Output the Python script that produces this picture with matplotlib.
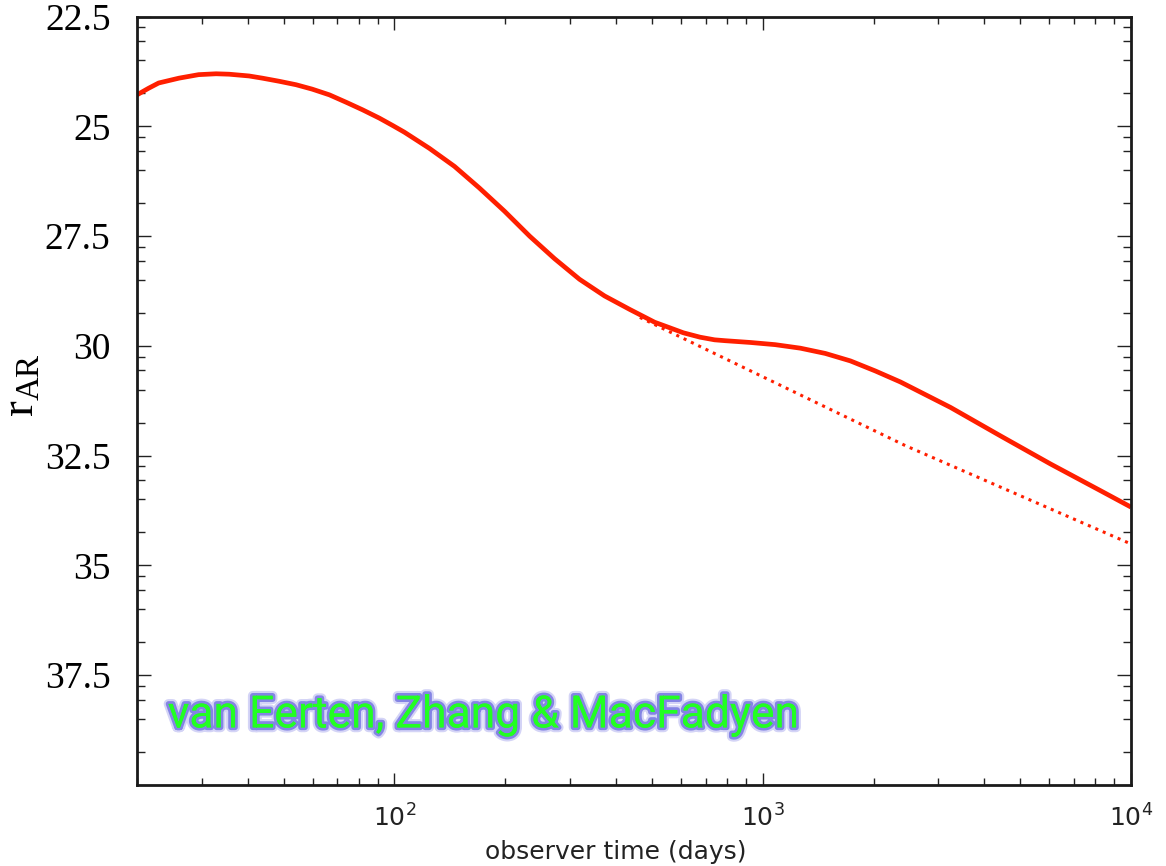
import numpy as np
import matplotlib
matplotlib.use("Agg")
import matplotlib.pyplot as plt
import matplotlib.patheffects as pe
from matplotlib.ticker import FixedLocator, LogLocator, NullFormatter

plt.rcParams["mathtext.fontset"] = "custom"
plt.rcParams["mathtext.rm"] = "Liberation Serif"
plt.rcParams["mathtext.it"] = "Liberation Serif:italic"

# ---- data ----
t_model = [20, 21.5, 22.9, 26.0, 29.4, 32.8, 35.6, 40.3, 43.8, 48.6, 54.1, 59.8, 66.6,
           74.0, 81.9, 91.0, 99.0, 106.4, 124.5, 145.6,
           170, 199, 233, 272, 318, 372, 436, 509, 557, 609, 676, 740, 791, 925, 1081, 1265,
           1479, 1730, 2023, 2366, 3236, 4426, 6053, 8280, 10000]
r_model = [24.28, 24.13, 24.01, 23.90, 23.82, 23.80, 23.81, 23.85, 23.90, 23.97, 24.05, 24.15, 24.28,
           24.45, 24.62, 24.81, 24.98, 25.13, 25.50, 25.91,
           26.40, 26.93, 27.50, 28.01, 28.48, 28.86, 29.17, 29.46, 29.58, 29.70, 29.80, 29.86, 29.88, 29.92, 29.97, 30.05,
           30.17, 30.34, 30.57, 30.82, 31.40, 32.05, 32.69, 33.30, 33.67]

t_nocj = [464, 2440, 10000]
r_nocj = [29.35, 32.27, 34.51]

ytick_vals = [22.5, 25, 27.5, 30, 32.5, 35, 37.5]
ytick_labels = ["22.5", "25", "27.5", "30", "32.5", "35", "37.5"]
xlabel = "observer time (days)"
ylabel = r"$\mathrm{r}_{\mathrm{AR}}$"
credit = "van Eerten, Zhang & MacFadyen"

# ---- figure ----
fig = plt.figure(figsize=(11.66, 8.66), dpi=100)
ax = fig.add_axes([137/1166, 1-785/866, (1131-137)/1166, (785-16.7)/866])

red = "#ff1f00"
ax.plot(t_model, r_model, color=red, lw=3.4, solid_capstyle="butt", solid_joinstyle="round")
ax.plot(t_nocj, r_nocj, color=red, lw=2.2, linestyle=":")

ax.set_xscale("log")
ax.set_xlim(20, 1e4)
ax.set_ylim(40, 22.5)

ax.set_yticks(ytick_vals)
ax.set_yticklabels(ytick_labels, fontfamily="Liberation Serif", fontsize=27, color="black")
minor = []
for m in ytick_vals:
    for k in (2, 4, 6, 8):
        minor.append(m + 2.5 - 2.5*np.log10(k))
ax.yaxis.set_minor_locator(FixedLocator(minor))
ax.yaxis.set_minor_formatter(NullFormatter())

ax.xaxis.set_major_locator(LogLocator(base=10))
ax.xaxis.set_minor_locator(LogLocator(base=10, subs=np.arange(2, 10)))
ax.xaxis.set_minor_formatter(NullFormatter())

ax.tick_params(which="both", direction="in", top=True, right=True, width=1.0, color="#222222")
ax.tick_params(axis="y", which="major", length=10, pad=19)
ax.tick_params(axis="y", which="minor", length=6)
ax.tick_params(axis="x", which="major", length=9, pad=14, labelsize=18, labelcolor="#222222")
ax.tick_params(axis="x", which="minor", length=5)

for s in ax.spines.values():
    s.set_linewidth(2.0)
    s.set_color("#1a1a1a")

ax.set_xlabel(xlabel, fontsize=18, color="#222222")
ax.xaxis.set_label_coords(0.482, -0.071)
ax.set_ylabel(ylabel, fontsize=34)
ax.yaxis.set_label_coords(-0.094, 0.52)

txt = ax.text(0.031, 0.075, credit, transform=ax.transAxes, ha="left", va="baseline",
              fontsize=32, fontfamily="Roboto", color="#22ff22")
txt.set_path_effects([pe.withStroke(linewidth=7, foreground="#d4d4f6"),
                      pe.withStroke(linewidth=4, foreground="#8484e4"),
                      pe.Normal()])

fig.savefig("out.png", dpi=100)
